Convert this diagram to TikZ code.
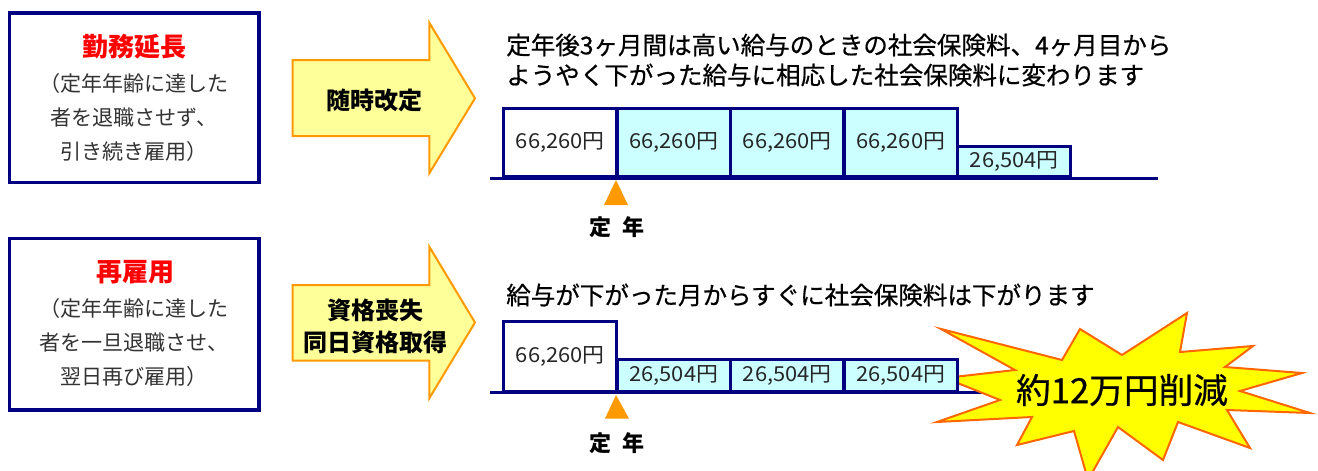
\documentclass[tikz,border=0pt]{standalone}
\usepackage{fontspec}
\usepackage{graphicx}
\newfontfamily\jp{Noto Sans CJK JP}
\newfontfamily\jpm[FakeBold=0.6]{Noto Sans CJK JP}
\definecolor{navy}{HTML}{000080}
\definecolor{cellfill}{HTML}{CCFFFF}
\definecolor{arrowfill}{HTML}{FFFF99}
\definecolor{arroworange}{HTML}{FF9900}
\definecolor{burstfill}{HTML}{FFFF00}
\definecolor{burstline}{HTML}{FF6600}
\definecolor{txtgray}{HTML}{333333}
\newcommand{\amt}[1]{\scalebox{1.06}[1]{#1円}}
\tikzset{
  leftbox/.style={draw=navy, line width=2.5pt, fill=white, minimum width=187.1pt, minimum height=127pt, inner sep=0pt},
  titletext/.style={font=\jp\bfseries\fontsize{19.5}{22}\selectfont, text=red, inner sep=0pt},
  subtext/.style={font=\jp\fontsize{15.8}{18}\selectfont, text=txtgray, inner sep=0pt},
  blockarrow/.style={fill=arrowfill, draw=arroworange, line width=1.5pt, line join=miter},
  arrowtext/.style={font=\jp\bfseries\fontsize{18}{24}\selectfont, align=center, inner sep=0pt},
  heading/.style={font=\jpm\fontsize{18.4}{22}\selectfont, anchor=west, inner sep=0pt},
  axisline/.style={draw=navy, line width=2.25pt},
  cell/.style={draw=navy, line width=2.25pt, fill=cellfill, anchor=south west, minimum width=85.1pt, inner sep=0pt, font=\jp\fontsize{15.5}{17}\selectfont, text=black!85},
  whitecell/.style={cell, fill=white},
  tallA/.style={minimum height=51.2pt},
  shortA/.style={minimum height=22.5pt},
  tallB/.style={minimum height=52pt},
  shortB/.style={minimum height=24pt},
  marker/.style={fill=arroworange},
  teinen/.style={font=\jp\bfseries\fontsize{16.5}{18}\selectfont, inner sep=0pt},
  burst/.style={fill=burstfill, draw=burstline, line width=1.5pt, line join=miter},
  bursttext/.style={font=\jpm\fontsize{26}{30}\selectfont, inner sep=0pt}
}
\begin{document}
\begin{tikzpicture}[x=0.75pt,y=-0.75pt]
\useasboundingbox (0,0) rectangle (1318,471);
\clip (0,0) rectangle (1318,471);

% left boxes
\node[leftbox] (box1) at (134.25,97.5) {};
\node[titletext] (t1) at (134.5,47) {勤務延長};
\node[subtext] (s1a) at (134,83) {（定年年齢に達した};
\node[subtext] (s1b) at (134,117) {者を退職させず、};
\node[subtext] (s1c) at (134,151) {引き続き雇用）};

\node[leftbox, minimum height=128.5pt] (box2) at (134.25,324.2) {};
\node[titletext] (t2) at (135,272) {再雇用};
\node[subtext] (s2a) at (134,308) {（定年年齢に達した};
\node[subtext] (s2b) at (134,342) {者を一旦退職させ、};
\node[subtext] (s2c) at (134,376) {翌日再び雇用）};

% block arrows
\draw[blockarrow] (292.7,60) -- (429.3,60) -- (429.3,22.7) -- (475,98.3) -- (429.3,173.3) -- (429.3,136) -- (292.7,136) -- cycle;
\node[arrowtext] (a1) at (374,100) {随時改定};
\draw[blockarrow] (292.7,285) -- (429.3,285) -- (429.3,246.7) -- (475,322.5) -- (429.3,398.3) -- (429.3,360.7) -- (292.7,360.7) -- cycle;
\node[arrowtext] (a2) at (375,326) {資格喪失\\同日資格取得};

% headings
\node[heading] (h1) at (506,45) {定年後3ヶ月間は高い給与のときの社会保険料、4ヶ月目から};
\node[heading] (h2) at (506,75) {ようやく下がった給与に相応した社会保険料に変わります};
\node[heading] (h3) at (506,295) {給与が下がった月からすぐに社会保険料は下がります};

% top timeline
\coordinate (axAL) at (490,178.3);
\coordinate (axAR) at (1158.3,178.3);
\draw[axisline] (axAL) -- (axAR);
\node[whitecell, tallA] (c1) at (502,178.3) {\amt{66,260}};
\node[cell, tallA] (c2) at (615.5,178.3) {\amt{66,260}};
\node[cell, tallA] (c3) at (729,178.3) {\amt{66,260}};
\node[cell, tallA] (c4) at (842.5,178.3) {\amt{66,260}};
\node[cell, shortA] (c5) at (956,178.3) {\amt{26,504}};
\fill[marker] (616,180) -- (628,205) -- (604,205) -- cycle;
\node[teinen] (m1) at (617,227) {定\hspace{0.5em}年};

% bottom timeline
\coordinate (axBL) at (490,392.7);
\coordinate (axBR) at (990,392.7);
\draw[axisline] (axBL) -- (axBR);
\draw[burst] (941,329) -- (1062,360) -- (1080,329) -- (1122,355) -- (1187,313) -- (1180,352)
  -- (1253,346) -- (1225,367) -- (1302,373) -- (1240,391) -- (1310,413) -- (1227,410)
  -- (1250,448) -- (1178,422) -- (1163,460) -- (1118,427) -- (1088,480) -- (1074,431)
  -- (1017,445) -- (1032,417) -- (937,422) -- (1000,400) -- (945,378) -- (1015,370) -- cycle;
\node[bursttext] (bt) at (1122,390) {約12万円削減};
\node[whitecell, tallB] (d1) at (502,392.7) {\amt{66,260}};
\node[cell, shortB] (d2) at (615.5,392.7) {\amt{26,504}};
\node[cell, shortB] (d3) at (729,392.7) {\amt{26,504}};
\node[cell, shortB] (d4) at (842.5,392.7) {\amt{26,504}};
\fill[marker] (616,395) -- (629,418.5) -- (605,418.5) -- cycle;
\node[teinen] (m2) at (617,443) {定\hspace{0.5em}年};
\end{tikzpicture}
\end{document}
